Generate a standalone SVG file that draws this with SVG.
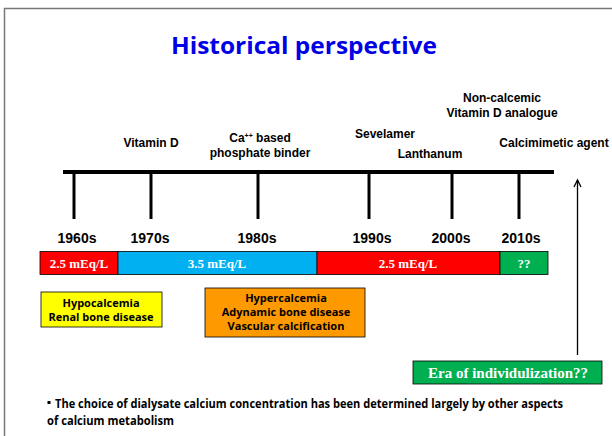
<svg xmlns="http://www.w3.org/2000/svg" width="612" height="436" viewBox="0 0 612 436">
<defs>
<style>
.sans{font-family:"Liberation Sans",Arial,sans-serif;font-weight:bold;fill:#000}
.cal{font-family:"Open Sans","Liberation Sans",sans-serif;font-weight:bold;fill:#000}
.ser{font-family:"Liberation Serif","Times New Roman",serif;font-weight:bold;fill:#fff}
.tick{stroke:#000;stroke-width:3}
.seg{stroke:#000;stroke-width:0.8}
</style>
<marker id="ah" markerWidth="10" markerHeight="10" refX="8" refY="4.5" orient="auto" markerUnits="userSpaceOnUse">
<path d="M1,1 L8,4.5 L1,8" fill="none" stroke="#000" stroke-width="1.3"/>
</marker>
</defs>
<rect x="0" y="0" width="612" height="436" fill="#fff"/>
<path d="M4.5,436 V8.5 H612" fill="none" stroke="#777" stroke-width="1.5"/>

<text id="title" x="304" y="54" text-anchor="middle" font-family="'Open Sans','Liberation Sans',sans-serif" font-weight="bold" font-size="24" fill="#0000e6" textLength="266" lengthAdjust="spacingAndGlyphs">Historical perspective</text>

<g id="events" class="sans" font-size="12" text-anchor="middle">
<text x="151" y="147">Vitamin D</text>
<text x="260" y="142">Ca<tspan font-size="7" dy="-4">++</tspan><tspan dy="4"> based</tspan></text>
<text x="260" y="157">phosphate binder</text>
<text x="385" y="138">Sevelamer</text>
<text x="430" y="158">Lanthanum</text>
<text x="502" y="102">Non-calcemic</text>
<text x="502" y="117">Vitamin D analogue</text>
<text x="554" y="147">Calcimimetic agent</text>
</g>

<g id="timeline">
<line x1="63" y1="172" x2="554" y2="172" stroke="#000" stroke-width="4"/>
<line class="tick" x1="74" y1="172" x2="74" y2="219"/>
<line class="tick" x1="151" y1="172" x2="151" y2="219"/>
<line class="tick" x1="258" y1="172" x2="258" y2="219"/>
<line class="tick" x1="369" y1="172" x2="369" y2="219"/>
<line class="tick" x1="452" y1="172" x2="452" y2="219"/>
<line class="tick" x1="519" y1="172" x2="519" y2="219"/>
</g>

<g id="years" class="sans" font-size="14" text-anchor="middle">
<text x="77" y="243">1960s</text>
<text x="150" y="243">1970s</text>
<text x="257" y="243">1980s</text>
<text x="372" y="243">1990s</text>
<text x="451" y="243">2000s</text>
<text x="521" y="243">2010s</text>
</g>

<g id="dialysate" font-size="13" text-anchor="middle">
<rect class="seg" x="40" y="251.5" width="78" height="23" fill="#ff0000"/>
<rect class="seg" x="118" y="251.5" width="199" height="23" fill="#00b0f0"/>
<rect class="seg" x="317" y="251.5" width="183" height="23" fill="#ff0000"/>
<rect class="seg" x="500" y="251.5" width="48" height="23" fill="#00b050"/>
<text class="ser" x="79" y="267.5">2.5 mEq/L</text>
<text class="ser" x="217" y="267.5">3.5 mEq/L</text>
<text class="ser" x="408" y="267.5">2.5 mEq/L</text>
<text class="ser" x="524" y="267.5">??</text>
</g>

<g id="hypo">
<rect x="41" y="292" width="121" height="35" fill="#ffff00" stroke="#000" stroke-width="0.8"/>
<text class="cal" x="101" y="307" font-size="11" text-anchor="middle">Hypocalcemia</text>
<text class="cal" x="101" y="321" font-size="11" text-anchor="middle">Renal bone disease</text>
</g>

<g id="hyper">
<rect x="205" y="288" width="160" height="49" fill="#ff9900" stroke="#000" stroke-width="0.8"/>
<text class="cal" x="286" y="302" font-size="11" text-anchor="middle">Hypercalcemia</text>
<text class="cal" x="286" y="316" font-size="11" text-anchor="middle">Adynamic bone disease</text>
<text class="cal" x="286" y="330" font-size="11" text-anchor="middle">Vascular calcification</text>
</g>

<g id="connectors">
<line x1="577.5" y1="355" x2="577.5" y2="180" stroke="#000" stroke-width="1.3" marker-end="url(#ah)"/>
</g>

<g id="era">
<rect x="413" y="361" width="189" height="23" fill="#00b050" stroke="#000" stroke-width="0.8"/>
<text class="ser" x="508" y="377.5" font-size="15" text-anchor="middle">Era of individulization??</text>
</g>

<g id="note" class="cal" font-size="11.5">
<rect x="47.5" y="401" width="3" height="3" fill="#000"/>
<text x="55" y="408" textLength="508" lengthAdjust="spacingAndGlyphs">The choice of dialysate calcium concentration has been determined largely by other aspects</text>
<text x="47" y="425" textLength="127" lengthAdjust="spacingAndGlyphs">of calcium metabolism</text>
</g>
</svg>
